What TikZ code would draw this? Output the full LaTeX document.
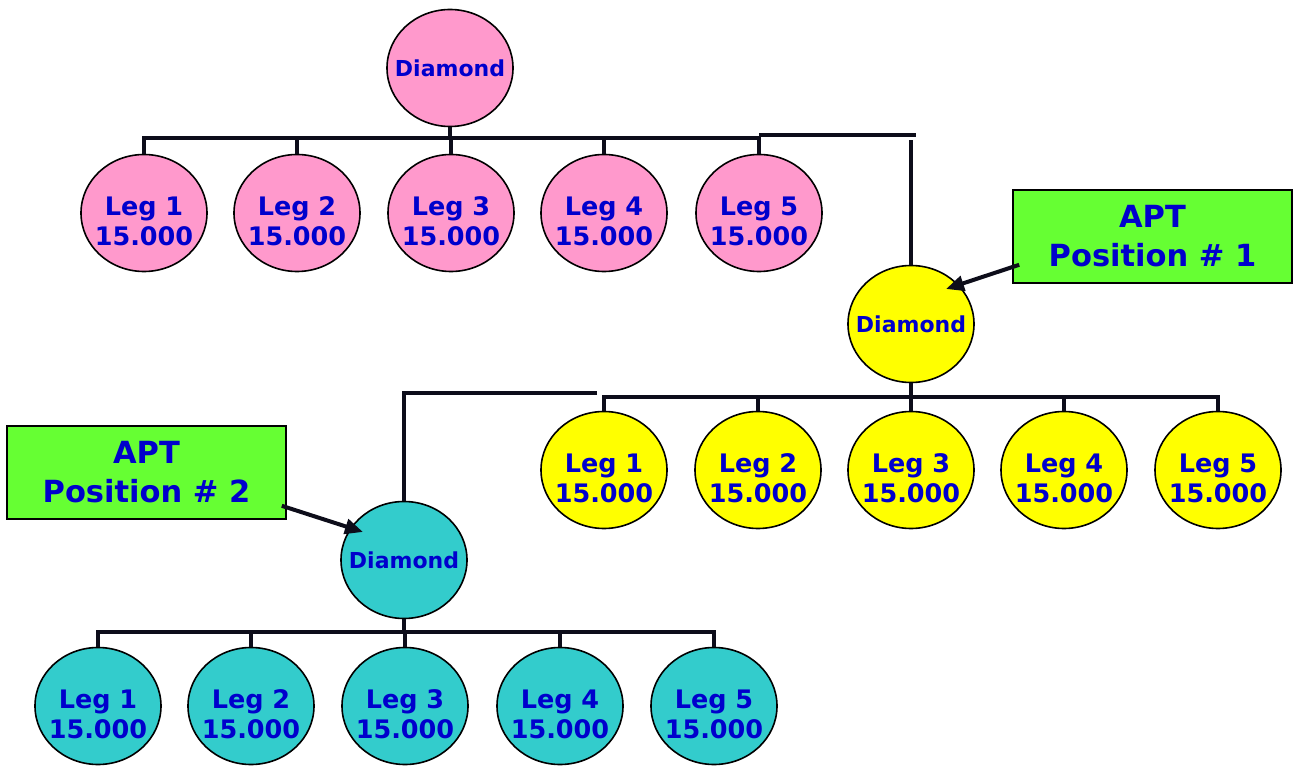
\documentclass[tikz,border=0pt]{standalone}
\usepackage{fontspec}
\setmainfont{DejaVu Sans}
\usetikzlibrary{shapes.geometric,arrows.meta}
\definecolor{pinkf}{HTML}{FF99CC}
\definecolor{yelf}{HTML}{FFFF00}
\definecolor{cyanf}{HTML}{33CCCC}
\definecolor{aptgreen}{HTML}{66FF33}
\definecolor{txtblue}{HTML}{0000CC}
\definecolor{linec}{HTML}{0D0D1A}
\begin{document}
\begin{tikzpicture}[x=1pt,y=-1pt,
 ball/.style={ellipse, draw=black, line width=1.6pt, minimum width=126pt, minimum height=117pt, inner sep=0pt},
 legtxt/.style={align=center, text=txtblue, inner sep=0pt, yshift=-8pt, font=\bfseries\fontsize{25.5}{30}\selectfont},
 diatxt/.style={align=center, text=txtblue, inner sep=0pt, font=\bfseries\fontsize{22}{26}\selectfont},
 leg/.style 2 args={ball, fill=#1, label={[legtxt]center:#2}},
 dia/.style={ball, fill=#1, label={[diatxt]center:Diamond}},
 conn/.style={line width=4pt, draw=linec},
 aptbox/.style={rectangle, draw=black, line width=1.6pt, fill=aptgreen, minimum width=279pt, minimum height=93pt, inner sep=0pt, align=center, text=txtblue, font=\bfseries\fontsize{30.5}{39}\selectfont},
 arr/.style={line width=4pt, draw=linec, -{Triangle[length=18pt,width=15pt]}}
]
\useasboundingbox (0,0) rectangle (1294,767);

% pink tree
\node[dia=pinkf] (pd) at (450,68) {};
\node[leg={pinkf}{Leg 1\\15.000}] (pl1) at (144,213) {};
\node[leg={pinkf}{Leg 2\\15.000}] (pl2) at (297,213) {};
\node[leg={pinkf}{Leg 3\\15.000}] (pl3) at (451,213) {};
\node[leg={pinkf}{Leg 4\\15.000}] (pl4) at (604,213) {};
\node[leg={pinkf}{Leg 5\\15.000}] (pl5) at (759,213) {};

% yellow tree
\node[dia=yelf] (yd) at (911,324) {};
\node[leg={yelf}{Leg 1\\15.000}] (yl1) at (604,470) {};
\node[leg={yelf}{Leg 2\\15.000}] (yl2) at (758,470) {};
\node[leg={yelf}{Leg 3\\15.000}] (yl3) at (911,470) {};
\node[leg={yelf}{Leg 4\\15.000}] (yl4) at (1064,470) {};
\node[leg={yelf}{Leg 5\\15.000}] (yl5) at (1218,470) {};

% cyan tree
\node[dia=cyanf] (cd) at (404,560) {};
\node[leg={cyanf}{Leg 1\\15.000}] (cl1) at (98,706) {};
\node[leg={cyanf}{Leg 2\\15.000}] (cl2) at (251,706) {};
\node[leg={cyanf}{Leg 3\\15.000}] (cl3) at (405,706) {};
\node[leg={cyanf}{Leg 4\\15.000}] (cl4) at (560,706) {};
\node[leg={cyanf}{Leg 5\\15.000}] (cl5) at (714,706) {};

% APT boxes
\node[aptbox] (g1) at (1152.5,236.5) {APT\\Position \# 1};
\node[aptbox] (g2) at (146.5,472.5) {APT\\Position \# 2};

% connectors pink
\coordinate (pbar) at (0,138);
\draw[conn] (pl1.north) |- (pl5.north |- pbar) -- (pl5.north);
\foreach \n in {pl2,pl3,pl4} \draw[conn] (\n.north) -- (\n.north |- pbar);
\draw[conn] (pd.south) -- (pd.south |- pbar);
\coordinate (pj) at (916,135);
\coordinate (pk) at (911,140);
\draw[conn] (pl5.north |- pj) -- (pj);
\draw[conn] (yd.north) -- (pk);

% connectors yellow
\coordinate (ybar) at (0,397);
\draw[conn] (yl1.north) |- (yl5.north |- ybar) -- (yl5.north);
\foreach \n in {yl2,yl3,yl4} \draw[conn] (\n.north) -- (\n.north |- ybar);
\draw[conn] (yd.south) -- (yd.south |- ybar);
\coordinate (yj) at (597,393);
\draw[conn] (yj) -| (cd.north);

% connectors cyan
\coordinate (cbar) at (0,632);
\draw[conn] (cl1.north) |- (cl5.north |- cbar) -- (cl5.north);
\foreach \n in {cl2,cl3,cl4} \draw[conn] (\n.north) -- (\n.north |- cbar);
\draw[conn] (cd.south) -- (cd.south |- cbar);

% arrows
\coordinate (t1) at (946,289);
\coordinate (t2) at (363,532);
\draw[arr] ([shift={(7,-19)}]g1.south west) -- (t1);
\draw[arr] ([shift={(-5,-14)}]g2.south east) -- (t2);
\end{tikzpicture}
\end{document}
